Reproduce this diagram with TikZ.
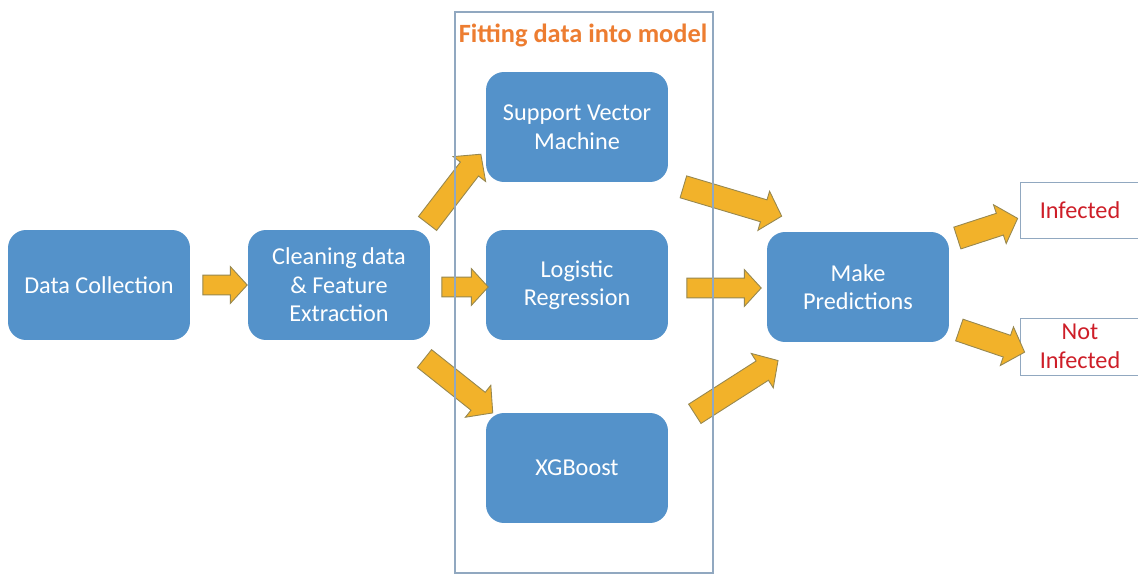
\documentclass[tikz,border=0pt]{standalone}
\usepackage{fontspec}
\setmainfont{Carlito}
\usetikzlibrary{shapes.arrows,calc}

\definecolor{boxblue}{RGB}{84,146,202}
\definecolor{arrowgold}{RGB}{242,178,42}
\definecolor{arrowedge}{RGB}{150,135,80}
\definecolor{framegray}{RGB}{145,168,192}
\definecolor{titleorange}{RGB}{237,125,49}
\definecolor{labelred}{RGB}{206,30,40}

% fat arrow from tail #2 to tip #3, named #1
\newcommand{\fatarrow}[4][]{%
  \path let \p1=#3, \p2=#4, \n1={veclen(\x2-\x1,\y2-\y1)} in
    (\p1) -- (\p2) node[blockarrow,#1,midway,sloped,minimum height=\n1] (#2) {};}

\begin{document}
\begin{tikzpicture}[x=0.02cm,y=-0.02cm,
procbox/.style={rectangle,rounded corners=0.36cm,fill=boxblue,text=white,minimum width=3.64cm,minimum height=2.2cm,align=center,inner sep=0pt,font=\fontsize{13.8}{16.2}\selectfont},
resbox/.style={rectangle,draw=framegray,fill=white,text=labelred,minimum width=2.4cm,align=center,inner sep=0pt,font=\fontsize{13.8}{16.2}\selectfont},
blockarrow/.style={single arrow,fill=arrowgold,draw=arrowedge,line width=0.5pt,inner xsep=0pt,inner ysep=0.19cm,single arrow head extend=0.17cm,single arrow tip angle=95},
slant/.style={inner ysep=0.22cm,single arrow head extend=0.18cm}]
\clip (0,0) rectangle (1138,577);
\fill[white] (0,0) rectangle (1138,577);
\node[procbox] (dc) at (99,285) {Data Collection};
\node[procbox] (clean) at (339,285) {Cleaning data\\\& Feature\\Extraction};
\node[procbox] (svm) at (577,127) {Support Vector\\Machine};
\node[procbox] (logit) at (577,285) {Logistic\\Regression};
\node[procbox] (xgb) at (577,468) {XGBoost};
\node[procbox] (pred) at (858,287) {Make\\Predictions};
\node[resbox,minimum height=1.12cm] (inf) at (1080,210) {Infected};
\node[resbox,minimum height=1.14cm] (notinf) at (1080,346.5) {Not\\Infected};
% arrows
\fatarrow{a1}{([shift={(8,0)}]dc.east)}{([shift={(-5,0)}]clean.west)}
\fatarrow[slant]{a2}{([shift={(-6,-2)}]clean.north east)}{([shift={(-8,-24)}]svm.south west)}
\fatarrow{a3}{([shift={(7,2)}]clean.east)}{([shift={(-2,2)}]logit.west)}
\fatarrow[slant]{a4}{([shift={(-10,15)}]clean.south east)}{([shift={(3,-3)}]xgb.north west)}
\fatarrow[slant]{a5}{([shift={(10,3)}]svm.south east)}{([shift={(10,-17)}]pred.north west)}
\fatarrow{a6}{([shift={(14,3)}]logit.east)}{([shift={(-10,1)}]pred.west)}
\fatarrow[slant]{a7}{([shift={(22,4)}]xgb.north east)}{([shift={(7,21)}]pred.south west)}
\fatarrow[slant]{a8}{([shift={(3,8)}]pred.north east)}{([shift={(-7,10)}]inf.west)}
\fatarrow[slant]{a9}{([shift={(5,-14)}]pred.south east)}{([shift={(0,4)}]notinf.west)}
% model frame
\node[draw=framegray,line width=0.8pt,minimum width=5.16cm,minimum height=11.22cm] (frame) at (584,292.5) {};
\node[text=titleorange,font=\fontsize{15}{18}\selectfont\bfseries] (title) at (583,35) {Fitting data into model};
\end{tikzpicture}
\end{document}
